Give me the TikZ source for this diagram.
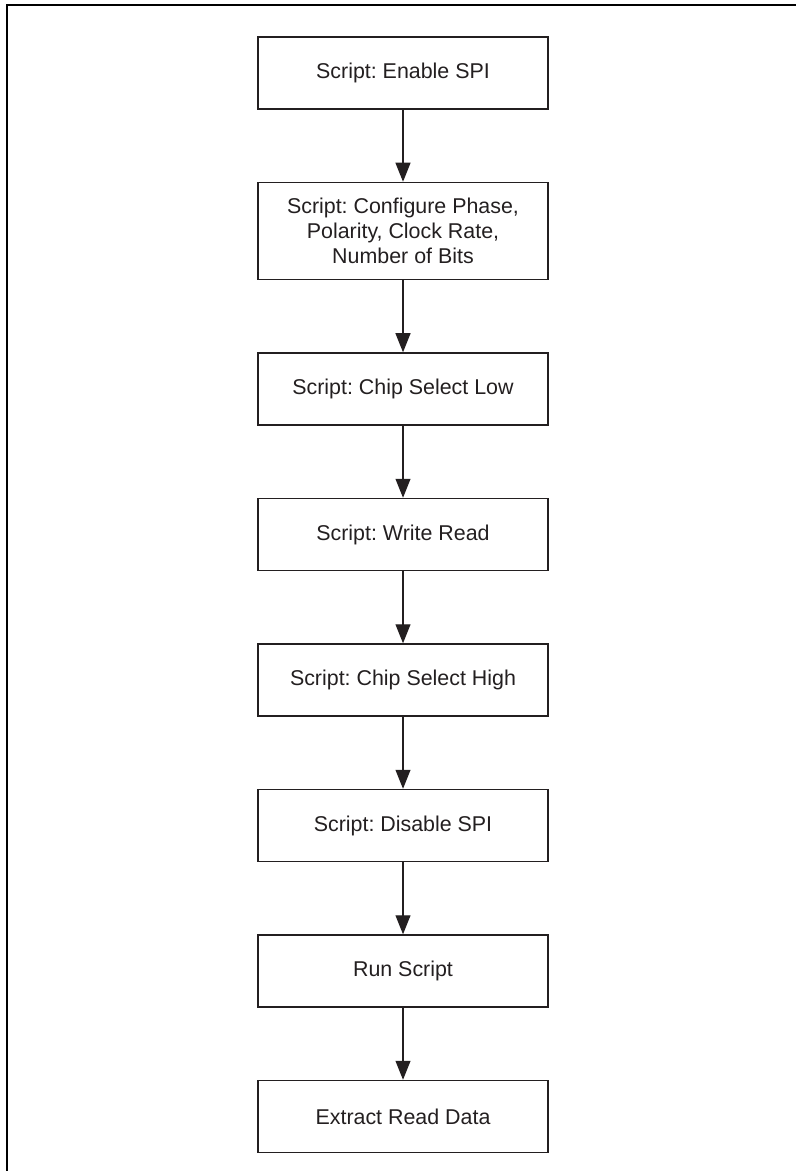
\documentclass[tikz,border=0pt]{standalone}
\usepackage{fontspec}
\setmainfont{Liberation Sans}
\usetikzlibrary{arrows.meta, positioning}
\definecolor{inkx}{HTML}{231F20}
\frenchspacing

\begin{document}
\begin{tikzpicture}[
      x=0.5pt, y=-0.5pt,
      node distance=36pt,
      stepbox/.style={rectangle, draw=inkx, line width=0.75pt, align=center,
                      minimum width=145pt, minimum height=36pt, inner sep=2pt,
                      font=\fontsize{10.7}{12.5}\selectfont, text=inkx},
      arr/.style={-{Triangle[length=9.5pt, width=7.5pt]}, line width=0.55pt, draw=inkx, fill=inkx},
      frame/.style={line width=1.2pt, draw=black}
    ]
    \useasboundingbox (0,0) rectangle (796,1171);
    % outer frame (only top and left edges show)
    \coordinate (fbl) at (7,1175);
    \coordinate (ftr) at (800,5);
    \draw[frame] (fbl) |- (ftr);
    \node[stepbox] at (403,73) (en)  {Script: Enable SPI};
    \node[stepbox, below=of en, minimum height=48.5pt] (cfg) {Script: Configure Phase,\\Polarity, Clock Rate,\\Number of Bits};
    \node[stepbox, below=of cfg]  (csl)  {Script: Chip Select Low};
    \node[stepbox, below=of csl]  (wr)   {Script: Write Read};
    \node[stepbox, below=of wr]   (csh)  {Script: Chip Select High};
    \node[stepbox, below=of csh]  (dis)  {Script: Disable SPI};
    \node[stepbox, below=of dis]  (run)  {Run Script};
    \node[stepbox, below=of run]  (ext)  {Extract Read Data};
    \draw[arr] (en)  -- (cfg);
    \draw[arr] (cfg) -- (csl);
    \draw[arr] (csl) -- (wr);
    \draw[arr] (wr)  -- (csh);
    \draw[arr] (csh) -- (dis);
    \draw[arr] (dis) -- (run);
    \draw[arr] (run) -- (ext);
  \end{tikzpicture}
\end{document}
